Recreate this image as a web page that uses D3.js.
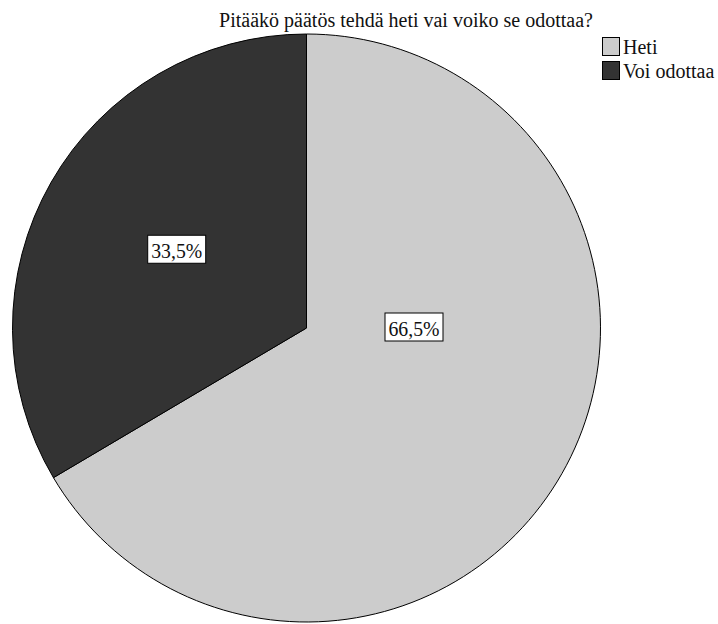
<!DOCTYPE html>
<html>
<head>
<meta charset="utf-8">
<script src="https://cdn.jsdelivr.net/npm/d3@7/dist/d3.min.js"></script>
<style>
  body { margin: 0; background: #fff; }
</style>
</head>
<body>
<script>
const title = "Pitääkö päätös tehdä heti vai voiko se odottaa?";
const categories = ["Heti", "Voi odottaa"];
const values = [66.5, 33.5];
const colors = ["#cccccc", "#333333"];

const w = 718, h = 624;
const cx = 306.5, cy = 328, r = 294;
const serif = '"Liberation Serif", "Times New Roman", serif';

const svg = d3.select("body").append("svg").attr("width", w).attr("height", h);

svg.append("text")
  .attr("x", 406).attr("y", 27)
  .attr("text-anchor", "middle")
  .style("font-family", serif)
  .style("font-size", "20px")
  .attr("fill", "#111")
  .text(title);

const pie = d3.pie().sort(null).value(d => d.value);
const arcs = pie(categories.map((c, i) => ({ name: c, value: values[i], color: colors[i] })));
const arc = d3.arc().innerRadius(0).outerRadius(r);

const g = svg.append("g").attr("transform", `translate(${cx},${cy})`);

g.selectAll("path")
  .data(arcs)
  .enter()
  .append("path")
  .attr("d", arc)
  .attr("fill", d => d.data.color)
  .attr("stroke", "#000")
  .attr("stroke-width", 1);

// label placement: big slice label sits right of centre, small one near centroid
const labelPos = (d, i) => {
  if (i === 0) return [107.5, -1];
  const mid = (d.startAngle + d.endAngle) / 2;
  const k = r * 0.52;
  return [Math.sin(mid) * k + 3, -Math.cos(mid) * k - 3];
};

const lab = g.selectAll("g.lab")
  .data(arcs)
  .enter()
  .append("g")
  .attr("class", "lab")
  .attr("transform", (d, i) => `translate(${labelPos(d, i)})`);

lab.append("rect")
  .attr("x", -29).attr("y", -14)
  .attr("width", 58).attr("height", 28)
  .attr("fill", "#fff")
  .attr("stroke", "#000");

lab.append("text")
  .attr("text-anchor", "middle")
  .attr("y", 9)
  .attr("textLength", 51)
  .attr("lengthAdjust", "spacingAndGlyphs")
  .style("font-family", serif)
  .style("font-size", "20px")
  .attr("fill", "#111")
  .text(d => d.data.value.toFixed(1).replace(".", ",") + "%");

const legend = svg.append("g").attr("transform", "translate(602,37)");
const item = legend.selectAll("g")
  .data(arcs)
  .enter()
  .append("g")
  .attr("transform", (d, i) => `translate(0,${i * 24})`);

item.append("rect")
  .attr("x", 0.5).attr("y", 0.5)
  .attr("width", 17).attr("height", 18)
  .attr("fill", d => d.data.color)
  .attr("stroke", "#000");

item.append("text")
  .attr("x", 21).attr("y", 17)
  .style("font-family", serif)
  .style("font-size", "20px")
  .attr("fill", "#111")
  .text(d => d.data.name);
</script>
</body>
</html>
